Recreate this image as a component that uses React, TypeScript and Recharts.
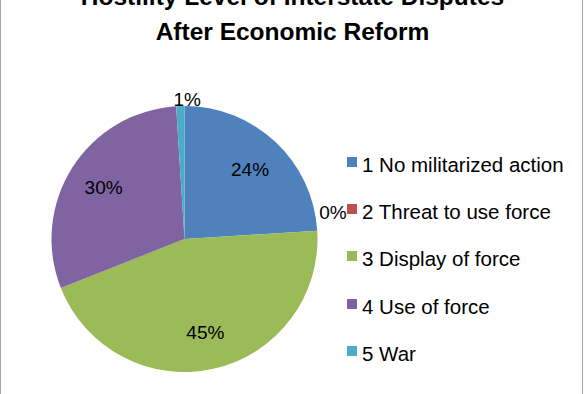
import { PieChart, Pie, Cell } from "recharts";

const categories = [
  "1 No militarized action",
  "2 Threat to use force",
  "3 Display of force",
  "4 Use of force",
  "5 War",
];
const shares = [24, 0, 45, 30, 1];
const colors = ["#4F81BD", "#C0504D", "#9BBB59", "#8064A2", "#4BACC6"];
const titleLines = ["Hostility Level of Interstate Disputes", "After Economic Reform"];

const data = categories.map((name, i) => ({ name, value: shares[i], color: colors[i] }));

const RAD = Math.PI / 180;
const FONT = "'Liberation Sans', Arial, sans-serif";

function renderLabel(props: any) {
  const { cx, cy, midAngle, outerRadius, value } = props;
  const cos = Math.cos(-midAngle * RAD);
  const sin = Math.sin(-midAngle * RAD);
  if (value < 5) {
    // small slices: label outside the pie
    const r = outerRadius + 4;
    const x = cx + r * cos;
    const y = cy + r * sin;
    const right = cos > 0.5;
    return (
      <text
        x={right ? x - 2 : x + 7}
        y={right ? y - 11 : y + 4}
        textAnchor={right ? "start" : "middle"}
        fontSize={19}
        fontFamily={FONT}
        fill="#000"
      >
        {value}%
      </text>
    );
  }
  const r = outerRadius * 0.72;
  return (
    <text
      x={cx + r * cos}
      y={cy + r * sin}
      textAnchor="middle"
      dominantBaseline="central"
      fontSize={19}
      fontFamily={FONT}
      fill="#000"
    >
      {value}%
    </text>
  );
}

export default function App() {
  return (
    <div
      style={{
        position: "absolute",
        left: 0,
        top: 0,
        width: 585,
        height: 394,
        background: "#fff",
        fontFamily: FONT,
        overflow: "hidden",
      }}
    >
      <div
        style={{
          position: "absolute",
          left: 0,
          top: 0,
          width: 1,
          height: 394,
          background: "#a6a6a6",
        }}
      />
      <div
        style={{
          position: "absolute",
          left: 582,
          top: 0,
          width: 1,
          height: 394,
          background: "#a6a6a6",
        }}
      />
      <div
        style={{
          position: "absolute",
          left: 0,
          top: -21,
          width: 585,
          textAlign: "center",
          fontWeight: "bold",
          fontSize: 24.5,
          lineHeight: "35px",
          color: "#000",
        }}
      >
        {titleLines.map((t) => (
          <div key={t}>{t}</div>
        ))}
      </div>
      <div style={{ position: "absolute", left: 0, top: 0 }}>
        <PieChart width={585} height={394} margin={{ top: 0, right: 0, bottom: 0, left: 0 }}>
          <Pie
            data={data}
            dataKey="value"
            cx={184.5}
            cy={239}
            outerRadius={133}
            startAngle={90}
            endAngle={-270}
            stroke="none"
            label={renderLabel}
            labelLine={false}
            isAnimationActive={false}
          >
            {data.map((d) => (
              <Cell key={d.name} fill={d.color} />
            ))}
          </Pie>
        </PieChart>
      </div>
      <div style={{ position: "absolute", left: 347, top: 141.4 }}>
        {data.map((d) => (
          <div key={d.name} style={{ height: 47.2, display: "flex", alignItems: "center" }}>
            <span
              style={{
                display: "inline-block",
                width: 10,
                height: 10,
                background: d.color,
                marginRight: 5,
                marginTop: -6,
              }}
            />
            <span style={{ fontSize: 20.5, color: "#000", lineHeight: "20px" }}>{d.name}</span>
          </div>
        ))}
      </div>
    </div>
  );
}
